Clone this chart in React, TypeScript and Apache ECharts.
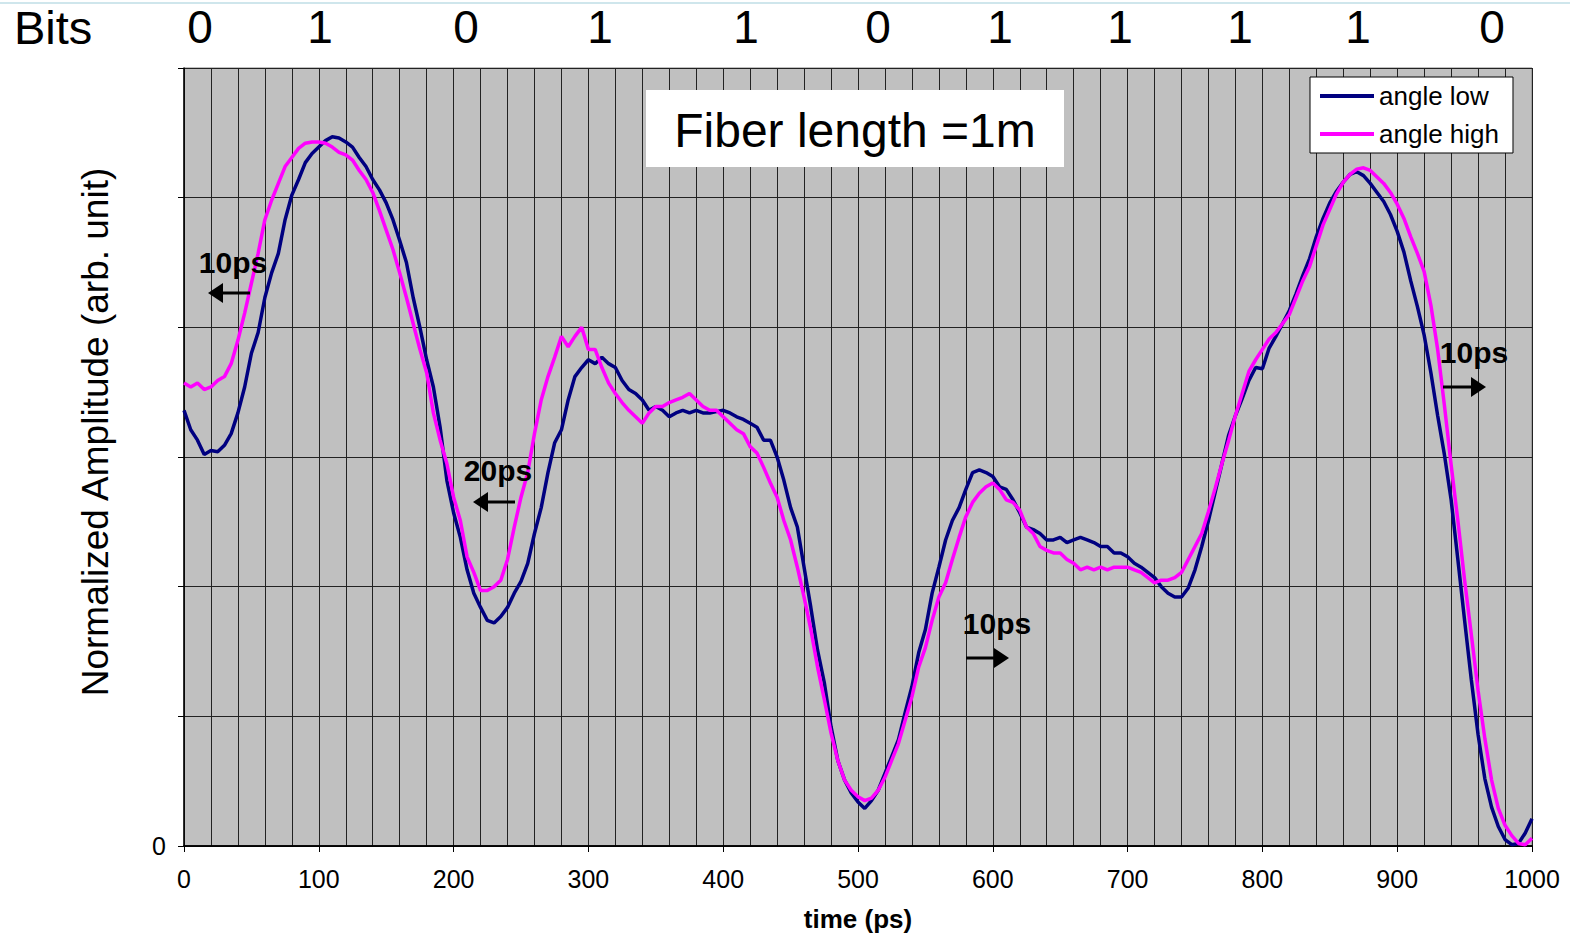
import React, { useEffect, useRef } from "react";
import * as echarts from "echarts";

const timePs = [
  0, 5, 10, 15, 20, 25, 30, 35, 40, 45, 50, 55, 60, 65, 70, 75, 80, 85, 90, 95,
  100, 105, 110, 115, 120, 125, 130, 135, 140, 145, 150, 155, 160, 165, 170, 175, 180, 185, 190, 195,
  200, 205, 210, 215, 220, 225, 230, 235, 240, 245, 250, 255, 260, 265, 270, 275, 280, 285, 290, 295,
  300, 305, 310, 315, 320, 325, 330, 335, 340, 345, 350, 355, 360, 365, 370, 375, 380, 385, 390, 395,
  400, 405, 410, 415, 420, 425, 430, 435, 440, 445, 450, 455, 460, 465, 470, 475, 480, 485, 490, 495,
  500, 505, 510, 515, 520, 525, 530, 535, 540, 545, 550, 555, 560, 565, 570, 575, 580, 585, 590, 595,
  600, 605, 610, 615, 620, 625, 630, 635, 640, 645, 650, 655, 660, 665, 670, 675, 680, 685, 690, 695,
  700, 705, 710, 715, 720, 725, 730, 735, 740, 745, 750, 755, 760, 765, 770, 775, 780, 785, 790, 795,
  800, 805, 810, 815, 820, 825, 830, 835, 840, 845, 850, 855, 860, 865, 870, 875, 880, 885, 890, 895,
  900, 905, 910, 915, 920, 925, 930, 935, 940, 945, 950, 955, 960, 965, 970, 975, 980, 985, 990, 995,
  1000,
];

const angleLow = [
  0.336, 0.321, 0.313, 0.302, 0.305, 0.304, 0.309, 0.318, 0.334, 0.354, 0.380, 0.396, 0.423, 0.442, 0.457, 0.483, 0.502, 0.514, 0.527, 0.534,
  0.539, 0.544, 0.547, 0.546, 0.543, 0.539, 0.531, 0.524, 0.514, 0.506, 0.496, 0.483, 0.467, 0.450, 0.423, 0.400, 0.375, 0.354, 0.323, 0.282,
  0.257, 0.238, 0.213, 0.195, 0.184, 0.174, 0.172, 0.177, 0.184, 0.195, 0.204, 0.218, 0.241, 0.261, 0.288, 0.311, 0.321, 0.344, 0.362, 0.369,
  0.375, 0.372, 0.377, 0.372, 0.369, 0.359, 0.352, 0.349, 0.344, 0.336, 0.339, 0.336, 0.331, 0.334, 0.336, 0.334, 0.336, 0.334, 0.334, 0.335,
  0.336, 0.334, 0.331, 0.329, 0.326, 0.323, 0.313, 0.313, 0.300, 0.282, 0.261, 0.246, 0.215, 0.184, 0.151, 0.126, 0.092, 0.066, 0.051, 0.041,
  0.034, 0.029, 0.035, 0.043, 0.056, 0.069, 0.082, 0.103, 0.123, 0.149, 0.167, 0.195, 0.215, 0.236, 0.251, 0.261, 0.275, 0.288, 0.290, 0.288,
  0.285, 0.277, 0.275, 0.267, 0.257, 0.246, 0.244, 0.241, 0.236, 0.236, 0.238, 0.234, 0.236, 0.238, 0.236, 0.234, 0.231, 0.231, 0.226, 0.226,
  0.223, 0.218, 0.215, 0.211, 0.207, 0.200, 0.195, 0.192, 0.192, 0.199, 0.213, 0.231, 0.251, 0.273, 0.295, 0.317, 0.332, 0.345, 0.359, 0.369,
  0.368, 0.384, 0.393, 0.403, 0.413, 0.426, 0.440, 0.453, 0.470, 0.484, 0.496, 0.505, 0.512, 0.518, 0.520, 0.517, 0.511, 0.504, 0.497, 0.487,
  0.474, 0.458, 0.436, 0.416, 0.394, 0.365, 0.332, 0.302, 0.267, 0.221, 0.174, 0.128, 0.086, 0.052, 0.030, 0.015, 0.005, 0.001, 0.002, 0.010,
  0.021,
];

const angleHigh = [
  0.357, 0.354, 0.357, 0.352, 0.354, 0.359, 0.362, 0.372, 0.390, 0.411, 0.434, 0.457, 0.483, 0.498, 0.511, 0.524, 0.531, 0.538, 0.542, 0.543,
  0.543, 0.542, 0.539, 0.535, 0.533, 0.529, 0.521, 0.514, 0.504, 0.490, 0.475, 0.460, 0.442, 0.423, 0.403, 0.383, 0.365, 0.334, 0.313, 0.295,
  0.269, 0.251, 0.223, 0.211, 0.197, 0.197, 0.200, 0.205, 0.221, 0.246, 0.269, 0.288, 0.318, 0.344, 0.362, 0.377, 0.393, 0.385, 0.393, 0.400,
  0.383, 0.383, 0.369, 0.357, 0.349, 0.342, 0.336, 0.331, 0.326, 0.334, 0.339, 0.339, 0.342, 0.344, 0.346, 0.349, 0.344, 0.339, 0.336, 0.336,
  0.331, 0.326, 0.321, 0.318, 0.308, 0.303, 0.292, 0.280, 0.269, 0.251, 0.236, 0.215, 0.192, 0.167, 0.138, 0.113, 0.087, 0.066, 0.051, 0.043,
  0.038, 0.035, 0.037, 0.043, 0.053, 0.066, 0.079, 0.097, 0.115, 0.138, 0.153, 0.174, 0.192, 0.203, 0.221, 0.238, 0.254, 0.265, 0.272, 0.277,
  0.280, 0.275, 0.267, 0.265, 0.259, 0.246, 0.241, 0.231, 0.228, 0.226, 0.226, 0.221, 0.218, 0.213, 0.215, 0.213, 0.215, 0.213, 0.215, 0.215,
  0.215, 0.213, 0.211, 0.207, 0.203, 0.205, 0.205, 0.207, 0.211, 0.221, 0.231, 0.241, 0.258, 0.276, 0.295, 0.313, 0.332, 0.349, 0.366, 0.375,
  0.383, 0.391, 0.396, 0.403, 0.410, 0.423, 0.436, 0.447, 0.463, 0.479, 0.491, 0.503, 0.512, 0.518, 0.522, 0.523, 0.521, 0.516, 0.511, 0.504,
  0.495, 0.484, 0.470, 0.457, 0.443, 0.417, 0.383, 0.340, 0.294, 0.251, 0.205, 0.163, 0.120, 0.083, 0.051, 0.029, 0.016, 0.008, 0.002, 0.001,
  0.006,
];

const bitLabels = ["0", "1", "0", "1", "1", "0", "1", "1", "1", "1", "0"];
const bitCentersPx = [200, 320, 466, 600, 746, 878, 1000, 1120, 1240, 1358, 1492];
const xTickLabels = [0, 100, 200, 300, 400, 500, 600, 700, 800, 900, 1000];

const FONT = "'Liberation Sans', Arial, Helvetica, sans-serif";

function arrow(x1: number, x2: number, y: number, dir: number) {
  const headLen = 15;
  const half = 10;
  const base = x2 - dir * headLen;
  return [
    {
      type: "line",
      shape: { x1, y1: y, x2: base, y2: y },
      style: { stroke: "#000", lineWidth: 3 },
      z: 100,
    },
    {
      type: "polygon",
      shape: { points: [[x2, y], [base, y - half], [base, y + half]] },
      style: { fill: "#000" },
      z: 100,
    },
  ];
}

function note(text: string, x: number, y: number) {
  return {
    type: "text",
    x,
    y,
    style: { text, font: `bold 30px ${FONT}`, fill: "#000", textAlign: "center", textVerticalAlign: "middle" },
    z: 100,
  };
}

export default function App() {
  const ref = useRef<HTMLDivElement>(null);
  useEffect(() => {
    if (!ref.current) return;
    const chart = echarts.init(ref.current, undefined, { renderer: "svg" });
    const lowData = timePs.map((t, i) => [t, angleLow[i]]);
    const highData = timePs.map((t, i) => [t, angleHigh[i]]);

    const graphics: any[] = [
      {
        type: "line",
        shape: { x1: 0, y1: 3, x2: 1570, y2: 3 },
        style: { stroke: "#cfe6ec", lineWidth: 2 },
      },
      {
        type: "text",
        x: 14,
        y: 27,
        style: { text: "Bits", font: `47px ${FONT}`, fill: "#000", textVerticalAlign: "middle", textAlign: "left" },
      },
      ...bitLabels.map((b, i) => ({
        type: "text",
        x: bitCentersPx[i],
        y: 27,
        style: { text: b, font: `46px ${FONT}`, fill: "#000", textAlign: "center", textVerticalAlign: "middle" },
      })),
      {
        type: "rect",
        shape: { x: 646, y: 90, width: 418, height: 77 },
        style: { fill: "#fff" },
        z: 50,
      },
      {
        type: "text",
        x: 855,
        y: 130,
        style: { text: "Fiber length =1m", font: `48px ${FONT}`, fill: "#000", textAlign: "center", textVerticalAlign: "middle" },
        z: 51,
      },
      {
        type: "text",
        x: 95,
        y: 432,
        rotation: Math.PI / 2,
        style: {
          text: "Normalized Amplitude (arb. unit)",
          font: `37px ${FONT}`,
          fill: "#000",
          textAlign: "center",
          textVerticalAlign: "middle",
        },
      },
      note("10ps", 233, 262),
      ...arrow(250, 208, 293, -1),
      note("20ps", 498, 470),
      ...arrow(515, 473, 502, -1),
      note("10ps", 997, 623),
      ...arrow(966, 1009, 658, 1),
      note("10ps", 1474, 352),
      ...arrow(1443, 1486, 387, 1),
    ];

    chart.setOption({
      animation: false,
      backgroundColor: "#fff",
      textStyle: { fontFamily: FONT },
      grid: {
        left: 184,
        right: 38,
        top: 68,
        bottom: 94,
        show: true,
        backgroundColor: "#c0c0c0",
        borderColor: "#808080",
        borderWidth: 1,
      },
      legend: {
        orient: "vertical",
        left: 1310,
        top: 77,
        backgroundColor: "#fff",
        borderColor: "#000",
        borderWidth: 1,
        padding: [5, 14, 5, 10],
        icon: "rect",
        itemWidth: 54,
        itemHeight: 4,
        itemGap: 10,
        textStyle: { fontSize: 26, color: "#000", fontFamily: FONT, lineHeight: 28 },
        data: ["angle low", "angle high"],
        z: 60,
      },
      xAxis: [
        {
          type: "value",
          min: 0,
          max: 1000,
          interval: 20,
          axisLine: { show: true, lineStyle: { color: "#000", width: 1.5 } },
          axisTick: { show: false },
          axisLabel: { show: false },
          splitLine: { show: true, lineStyle: { color: "#222", width: 1 } },
        },
        {
          type: "value",
          min: 0,
          max: 1000,
          interval: 100,
          position: "bottom",
          name: "time (ps)",
          nameLocation: "middle",
          nameGap: 60,
          nameTextStyle: { fontSize: 26, fontWeight: "bold", color: "#000", fontFamily: FONT },
          axisLine: { show: true, lineStyle: { color: "#000", width: 1.5 } },
          axisTick: { show: true, length: 6, lineStyle: { color: "#000" } },
          axisLabel: {
            show: true,
            fontSize: 25,
            color: "#000",
            margin: 20,
            fontFamily: FONT,
            formatter: (v: number) => (xTickLabels.includes(v) ? String(v) : ""),
          },
          splitLine: { show: false },
        },
      ],
      yAxis: {
        type: "value",
        min: 0,
        max: 0.6,
        interval: 0.1,
        axisLine: { show: true, lineStyle: { color: "#000", width: 1.5 } },
        axisTick: { show: true, length: 6, lineStyle: { color: "#000" } },
        axisLabel: {
          show: true,
          fontSize: 25,
          color: "#000",
          margin: 18,
          fontFamily: FONT,
          formatter: (v: number) => (v === 0 ? "0" : ""),
        },
        splitLine: { show: true, lineStyle: { color: "#222", width: 1 } },
      },
      series: [
        {
          name: "angle low",
          type: "line",
          xAxisIndex: 0,
          data: lowData,
          symbol: "none",
          lineStyle: { color: "#000080", width: 3.5 },
          itemStyle: { color: "#000080" },
          z: 3,
        },
        {
          name: "angle high",
          type: "line",
          xAxisIndex: 0,
          data: highData,
          symbol: "none",
          lineStyle: { color: "#ff00ff", width: 3.5 },
          itemStyle: { color: "#ff00ff" },
          z: 4,
        },
      ],
      graphic: graphics,
    });
    return () => chart.dispose();
  }, []);
  return (
    <div
      ref={ref}
      style={{ position: "fixed", left: 0, top: 0, width: 1570, height: 940, background: "#fff" }}
    />
  );
}
